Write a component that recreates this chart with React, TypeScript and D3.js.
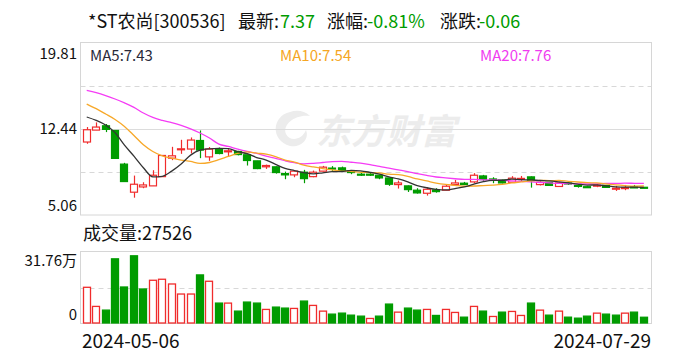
import React from 'react';
import * as d3 from 'd3';

const dates = [
  '2024-05-06','2024-05-07','2024-05-08','2024-05-09','2024-05-10','2024-05-13','2024-05-14','2024-05-15','2024-05-16','2024-05-17',
  '2024-05-20','2024-05-21','2024-05-22','2024-05-23','2024-05-24','2024-05-27','2024-05-28','2024-05-29','2024-05-30','2024-05-31',
  '2024-06-03','2024-06-04','2024-06-05','2024-06-06','2024-06-07','2024-06-11','2024-06-12','2024-06-13','2024-06-14','2024-06-17',
  '2024-06-18','2024-06-19','2024-06-20','2024-06-21','2024-06-24','2024-06-25','2024-06-26','2024-06-27','2024-06-28','2024-07-01',
  '2024-07-02','2024-07-03','2024-07-04','2024-07-05','2024-07-08','2024-07-09','2024-07-10','2024-07-11','2024-07-12','2024-07-15',
  '2024-07-16','2024-07-17','2024-07-18','2024-07-19','2024-07-22','2024-07-23','2024-07-24','2024-07-25','2024-07-26','2024-07-29',
];

const opens = [
  11.30, 12.32, 12.69, 12.29, 9.41, 7.01, 7.46, 7.55, 8.34, 9.92,
  10.68, 10.70, 11.43, 10.03, 10.70, 10.46, 10.49, 10.21, 9.69, 9.18,
  9.18, 8.60, 8.49, 8.72, 8.34, 8.81, 9.07, 9.09, 8.83, 8.55,
  8.55, 8.46, 8.23, 7.66, 7.55, 7.18, 6.92, 7.20, 7.18, 7.66,
  7.78, 7.89, 8.40, 8.14, 8.06, 7.86, 8.15, 8.32, 7.66, 7.85,
  7.50, 7.80, 7.59, 7.48, 7.56, 7.59, 7.29, 7.35, 7.46, 7.43,
];
const highs = [
  12.58, 12.98, 12.84, 12.29, 9.52, 8.43, 7.86, 8.89, 10.15, 10.89,
  11.49, 11.69, 12.29, 10.87, 10.83, 10.70, 10.55, 10.21, 9.69, 9.37,
  9.22, 8.77, 8.86, 8.92, 8.86, 9.26, 9.24, 9.20, 8.88, 8.75,
  8.66, 8.49, 8.23, 8.00, 7.59, 7.35, 7.44, 7.35, 7.69, 8.06,
  7.89, 8.64, 8.49, 8.29, 8.10, 8.38, 8.40, 8.36, 7.93, 7.89,
  7.85, 7.85, 7.63, 7.55, 7.72, 7.63, 7.55, 7.63, 7.63, 7.45,
];
const lows = [
  11.15, 12.32, 12.15, 9.90, 7.92, 6.54, 7.35, 7.55, 8.34, 9.75,
  10.29, 10.32, 9.92, 9.69, 10.25, 10.06, 10.16, 9.29, 8.98, 9.00,
  8.60, 8.12, 8.29, 7.78, 8.29, 8.79, 8.83, 8.81, 8.55, 8.40,
  8.40, 8.12, 7.55, 7.32, 7.03, 6.89, 6.72, 6.97, 7.18, 7.55,
  7.63, 7.78, 7.98, 7.78, 7.76, 7.86, 7.98, 7.40, 7.59, 7.55,
  7.50, 7.63, 7.40, 7.38, 7.44, 7.38, 7.12, 7.18, 7.38, 7.35,
];
const closes = [
  12.35, 12.58, 12.38, 9.90, 7.92, 7.69, 7.63, 8.46, 10.15, 10.12,
  10.72, 11.47, 10.61, 10.70, 10.32, 10.55, 10.23, 9.72, 9.03, 9.29,
  8.69, 8.49, 8.81, 8.17, 8.72, 9.15, 9.00, 8.86, 8.69, 8.49,
  8.49, 8.23, 7.69, 7.80, 7.23, 6.95, 7.26, 7.06, 7.52, 7.80,
  7.66, 8.46, 8.09, 8.10, 7.80, 8.21, 8.19, 8.00, 7.85, 7.59,
  7.80, 7.76, 7.52, 7.44, 7.61, 7.42, 7.35, 7.40, 7.43, 7.37,
];
const ma5 = [
  13.44, 13.15, 12.75, 12.10, 11.03, 10.09, 9.10, 8.32, 8.37, 8.81,
  9.42, 10.18, 10.61, 10.72, 10.76, 10.73, 10.48, 10.30, 9.97, 9.76,
  9.39, 9.04, 8.86, 8.69, 8.58, 8.67, 8.77, 8.78, 8.88, 8.84,
  8.71, 8.55, 8.32, 8.14, 7.89, 7.58, 7.39, 7.26, 7.20, 7.32,
  7.46, 7.70, 7.91, 8.02, 8.02, 8.13, 8.08, 8.06, 8.01, 7.97,
  7.89, 7.80, 7.70, 7.62, 7.63, 7.55, 7.47, 7.44, 7.44, 7.43,
];
const ma10 = [
  14.55, 14.15, 13.70, 13.23, 12.63, 11.86, 11.06, 10.49, 10.12, 9.92,
  9.76, 9.64, 9.47, 9.55, 9.79, 10.07, 10.33, 10.46, 10.35, 10.26,
  10.06, 9.76, 9.58, 9.33, 9.17, 9.03, 8.91, 8.82, 8.79, 8.71,
  8.69, 8.66, 8.55, 8.51, 8.36, 8.14, 7.97, 7.79, 7.67, 7.60,
  7.52, 7.54, 7.58, 7.61, 7.67, 7.80, 7.89, 7.98, 8.02, 8.00,
  8.01, 7.94, 7.88, 7.82, 7.80, 7.72, 7.63, 7.57, 7.53, 7.54,
];
const ma20 = [
  15.72, 15.52, 15.27, 14.98, 14.64, 14.26, 13.78, 13.40, 13.15, 12.95,
  12.72, 12.43, 12.07, 11.64, 11.12, 10.92, 10.69, 10.49, 10.32, 10.09,
  9.91, 9.70, 9.53, 9.44, 9.48, 9.55, 9.62, 9.64, 9.57, 9.49,
  9.37, 9.21, 9.07, 8.92, 8.77, 8.59, 8.44, 8.31, 8.23, 8.16,
  8.10, 8.10, 8.07, 8.06, 8.02, 7.97, 7.93, 7.89, 7.84, 7.80,
  7.76, 7.74, 7.73, 7.71, 7.73, 7.76, 7.76, 7.78, 7.77, 7.76,
];
const volumes = [
  159700, 75400, 59000, 285200, 161000, 298600, 152200, 190700, 195200, 174300,
  130000, 130000, 214300, 186300, 90000, 90000, 54600, 94500, 90000, 62100,
  72300, 67900, 66500, 98900, 79800, 54600, 41300, 45700, 36800, 32400,
  22200, 32400, 85600, 50100, 67900, 59000, 62100, 35500, 62100, 48800,
  27900, 75400, 54600, 31000, 50100, 53200, 35500, 90000, 59000, 36800,
  54600, 27900, 23500, 32400, 45700, 41300, 36800, 45700, 50100, 27526,
];
const volUp = [
  1, 1, 0, 0, 0, 0, 0, 1, 1, 1,
  1, 1, 0, 1, 0, 1, 0, 0, 0, 1,
  0, 0, 1, 0, 1, 1, 0, 0, 0, 0,
  1, 0, 0, 1, 0, 0, 1, 0, 1, 1,
  0, 1, 0, 1, 0, 1, 1, 0, 1, 0,
  1, 0, 0, 0, 1, 0, 0, 1, 0, 0,
];

const priceTicks = [5.06, 12.44, 19.81];
const priceTickLabels = ['5.06', '12.44', '19.81'];
const volMax = 317600;
const volTickLabels = ['0', '31.76万'];
const maLabels = ['MA5:7.43', 'MA10:7.54', 'MA20:7.76'];
const titleName = '*ST农尚[300536]';
const titleLatest = ['最新:', '7.37'];
const titlePct = ['涨幅:', '-0.81%'];
const titleChg = ['涨跌:', '-0.06'];
const volumeTitle = '成交量:27526';

const RED = '#f02c2c';
const GREEN = '#009c00';
const FONT = "'Noto Sans CJK SC', 'Noto Sans', sans-serif";

export default function App() {
  const W = 688, H = 360;
  const L = 80.5, R = 651.5;
  const pTop = 42.5, pBot = 215;
  const vTop = 251.5, vBot = 323.5;

  const idx = d3.range(dates.length);
  const x = d3.scaleBand<number>().domain(idx).range([82, 648.6]).paddingInner(0.2).paddingOuter(0.1);
  const cx = (i: number) => (x(i) as number) + x.bandwidth() / 2;
  const y = d3.scaleLinear().domain([5.06, 19.81]).range([pBot, pTop]);
  const yv = d3.scaleLinear().domain([0, volMax]).range([vBot, vTop]);

  const line = d3.line<number>().x((_, i) => cx(i)).y((v) => y(v)).curve(d3.curveMonotoneX);

  const bw = Math.max(3, Math.round(x.bandwidth()));
  const gridP = [0.25, 0.5, 0.75].map((f) => pTop + (pBot - pTop) * f);

  return (
    <div style={{ position: 'absolute', left: 0, top: 0, width: W, height: H, background: '#fff' }}>
      <svg width={W} height={H} style={{ display: 'block', fontFamily: FONT }}>
        <rect x={0} y={0} width={W} height={H} fill="#fff" />
        {/* Title */}
        <text x={88} y={28} fontSize={18} fill="#111">{titleName}</text>
        <text x={238} y={28} fontSize={18} fill="#111">{titleLatest[0]}</text>
        <text x={280} y={28} fontSize={18} fill={GREEN}>{titleLatest[1]}</text>
        <text x={327} y={28} fontSize={18} fill="#111">{titlePct[0]}</text>
        <text x={367} y={28} fontSize={18} fill={GREEN}>{titlePct[1]}</text>
        <text x={440} y={28} fontSize={18} fill="#111">{titleChg[0]}</text>
        <text x={479} y={28} fontSize={18} fill={GREEN}>{titleChg[1]}</text>

        {/* watermark */}
        <g fill="#ececec" stroke="none">
          <path d="M 290 112 C 272 116, 270 140, 290 146 C 300 148, 310 140, 306 130 C 302 140, 290 142, 286 134 C 282 124, 296 114, 310 116 C 304 110, 296 110, 290 112 Z" />
          <text x={316} y={144} fontSize={35} fontWeight={700} fontStyle="italic" fill="#ececec">东方财富</text>
        </g>

        {/* price panel */}
        <rect x={L} y={pTop} width={R - L} height={pBot - pTop} fill="none" stroke="#d6d6d6" />
        {gridP.map((gy, k) => (
          <line key={k} x1={L} x2={R} y1={Math.round(gy) + 0.5} y2={Math.round(gy) + 0.5}
            stroke={k === 1 ? '#dcdcdc' : '#d8d8d8'} strokeDasharray={k === 1 ? undefined : '5,4'} />
        ))}
        {priceTicks.map((t, k) => {
          const yy = k === 0 ? pBot - 4 : k === 2 ? pTop + 16 : y(t) + 5;
          return (
            <text key={k} x={77} y={yy} fontSize={15} textAnchor="end" fill="#111">{priceTickLabels[k]}</text>
          );
        })}
        <text x={90} y={61} fontSize={15} fill="#2a2a3a">{maLabels[0]}</text>
        <text x={280} y={61} fontSize={15} fill="#f5a623">{maLabels[1]}</text>
        <text x={480} y={61} fontSize={15} fill="#f03cf0">{maLabels[2]}</text>

        {/* candles */}
        {idx.map((i) => {
          const up = closes[i] >= opens[i];
          const col = up ? RED : GREEN;
          const xc = Math.round(cx(i)) + 0.5;
          const bx = Math.round(cx(i) - bw / 2) + 0.5;
          const yTop = y(Math.max(opens[i], closes[i]));
          const yBot = y(Math.min(opens[i], closes[i]));
          const h = Math.max(1, yBot - yTop);
          return (
            <g key={i}>
              <line x1={xc} x2={xc} y1={y(highs[i])} y2={y(lows[i])} stroke={col} strokeWidth={1.2} />
              <rect x={bx} y={yTop} width={bw - 1} height={h}
                fill={up ? '#fff' : col} stroke={col} strokeWidth={1.2} />
            </g>
          );
        })}

        {/* moving averages */}
        <path d={line(ma20) || ''} fill="none" stroke="#f53cf5" strokeWidth={1.3} />
        <path d={line(ma10) || ''} fill="none" stroke="#f7a829" strokeWidth={1.3} />
        <path d={line(ma5) || ''} fill="none" stroke="#333" strokeWidth={1.3} />

        {/* volume panel */}
        <text x={83} y={240} fontSize={18} fill="#111">{volumeTitle}</text>
        <rect x={L} y={vTop} width={R - L} height={vBot - vTop} fill="none" stroke="#d6d6d6" />
        <line x1={L} x2={R} y1={Math.round((vTop + vBot) / 2) + 0.5} y2={Math.round((vTop + vBot) / 2) + 0.5}
          stroke="#d8d8d8" strokeDasharray="5,4" />
        <text x={77} y={266} fontSize={15} textAnchor="end" fill="#111">{volTickLabels[1]}</text>
        <text x={77} y={320} fontSize={15} textAnchor="end" fill="#111">{volTickLabels[0]}</text>
        {idx.map((i) => {
          const up = volUp[i] === 1;
          const col = up ? RED : GREEN;
          const bx = Math.round(cx(i) - bw / 2) + 0.5;
          const top = yv(volumes[i]);
          return (
            <rect key={i} x={bx} y={top} width={bw - 1} height={Math.max(1, vBot - 0.5 - top)}
              fill={up ? '#fff' : col} stroke={col} strokeWidth={1.3} />
          );
        })}

        {/* dates */}
        <text x={82} y={348} fontSize={19} fill="#111">{dates[0]}</text>
        <text x={651} y={348} fontSize={19} textAnchor="end" fill="#111">{dates[dates.length - 1]}</text>
      </svg>
    </div>
  );
}
